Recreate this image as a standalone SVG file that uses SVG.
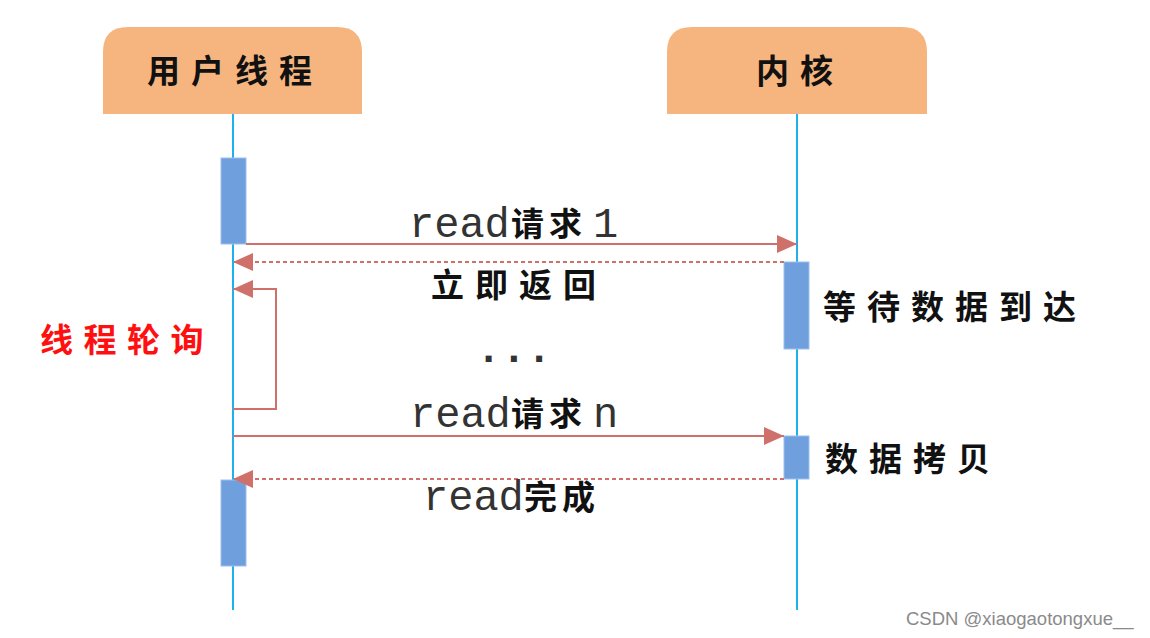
<svg xmlns="http://www.w3.org/2000/svg" width="1150" height="638" viewBox="0 0 1150 638">
<style>
.hdr{fill:#f6b57f}
.life{stroke:#1eb1ec;stroke-width:2}
.act{fill:#6f9fdc;stroke:#9cc0ee;stroke-width:1}
.msg{stroke:#d0706a;stroke-width:2;fill:none}
.ret{stroke:#d0706a;stroke-width:2;fill:none;stroke-dasharray:4 3}
.cjk{font-family:"Noto Sans CJK SC",sans-serif;font-weight:bold;fill:#111}
.big{font-size:33px;letter-spacing:11px}
.mono{font-family:"Liberation Mono",monospace;font-size:42px;fill:#333}
.small{font-size:33px;letter-spacing:5px}
</style>
<defs>
<marker id="ah" markerWidth="20" markerHeight="18" refX="20" refY="9" orient="auto" markerUnits="userSpaceOnUse">
<path d="M0,0 L20,9 L0,18 Z" fill="#d0706a"/>
</marker>
</defs>
<rect width="1150" height="638" fill="#ffffff"/>
<g id="user-thread">
<path class="hdr" d="M103,114 V52 Q103,27 128,27 H337 Q362,27 362,52 V114 Z"/>
<text class="cjk big" x="147" y="83">用户线程</text>
<line class="life" x1="233" y1="114" x2="233" y2="610"/>
</g>
<g id="kernel">
<path class="hdr" d="M667,114 V52 Q667,27 692,27 H902 Q927,27 927,52 V114 Z"/>
<text class="cjk big" x="756" y="83">内核</text>
<line class="life" x1="797" y1="114" x2="797" y2="610"/>
</g>
<g id="activations">
<rect id="act-user-1" class="act" x="221" y="158" width="25" height="86"/>
<rect id="act-kernel-1" class="act" x="784" y="262" width="25" height="87"/>
<rect id="act-kernel-2" class="act" x="784" y="436" width="25" height="43"/>
<rect id="act-user-2" class="act" x="221" y="480" width="25" height="86"/>
</g>
<g id="connectors">
<line class="msg" x1="246" y1="244" x2="797" y2="244" marker-end="url(#ah)"/>
<line class="ret" x1="784" y1="262" x2="233" y2="262" marker-end="url(#ah)"/>
<polyline class="msg" points="233,409 276,409 276,289 233,289" marker-end="url(#ah)"/>
<line class="msg" x1="233" y1="436" x2="784" y2="436" marker-end="url(#ah)"/>
<line class="ret" x1="784" y1="479" x2="233" y2="479" marker-end="url(#ah)"/>
</g>
<g id="labels">
<text y="237"><tspan class="mono" x="409">read</tspan><tspan class="cjk small" x="511" y="236">请求</tspan><tspan class="mono" x="593" y="237">1</tspan></text>
<text class="cjk big" x="431" y="297">立即返回</text>
<text class="cjk big" x="823" y="319">等待数据到达</text>
<text class="mono" x="476" y="362" font-weight="bold">...</text>
<text class="cjk big" x="40" y="352" style="fill:#ff1010;letter-spacing:10.5px">线程轮询</text>
<text y="427"><tspan class="mono" x="410">read</tspan><tspan class="cjk small" x="511" y="426">请求</tspan><tspan class="mono" x="593" y="427">n</tspan></text>
<text class="cjk big" x="825" y="471">数据拷贝</text>
<text y="510"><tspan class="mono" x="423">read</tspan><tspan class="cjk small" x="524" y="509">完成</tspan></text>
<text x="906" y="625" font-family="Liberation Sans, sans-serif" font-size="18.5" fill="#8a8a8a">CSDN @xiaogaotongxue__</text>
</g>
</svg>
